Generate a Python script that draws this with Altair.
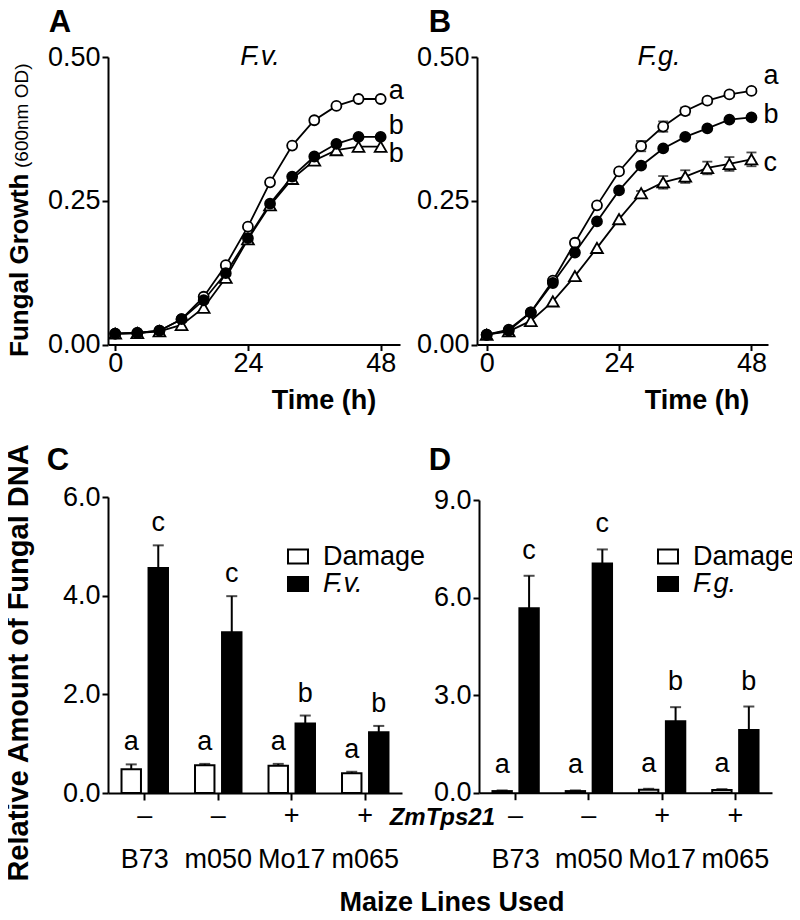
import altair as alt
import pandas as pd

FONT = "Liberation Sans"
W, H = 784, 904

# ---------------- data ----------------
time_h = [0, 4, 8, 12, 16, 20, 24, 28, 32, 36, 40, 44, 48]

# Panel A (F.v.) growth curves
fv_open = [0.019, 0.020, 0.024, 0.044, 0.083, 0.138, 0.205, 0.282, 0.346, 0.390, 0.415, 0.427, 0.427]
fv_filled = [0.019, 0.020, 0.024, 0.044, 0.077, 0.124, 0.185, 0.245, 0.292, 0.327, 0.349, 0.361, 0.361]
fv_tri = [0.019, 0.020, 0.023, 0.034, 0.064, 0.116, 0.183, 0.242, 0.288, 0.320, 0.338, 0.344, 0.344]
fv_letters = ["a", "b", "b"]

# Panel B (F.g.) growth curves
fg_open = [0.017, 0.026, 0.056, 0.111, 0.177, 0.242, 0.301, 0.345, 0.379, 0.406, 0.424, 0.435, 0.441]
fg_filled = [0.017, 0.024, 0.056, 0.107, 0.160, 0.214, 0.268, 0.311, 0.341, 0.361, 0.376, 0.391, 0.395]
fg_tri = [0.017, 0.023, 0.041, 0.075, 0.119, 0.168, 0.218, 0.263, 0.282, 0.292, 0.307, 0.314, 0.322]
fg_open_err = [0, 0, 0, 0, 0, 0, 0.004, 0.009, 0.009, 0.006, 0.005, 0.004, 0.003]
fg_tri_err = [0, 0, 0, 0, 0, 0, 0, 0.004, 0.011, 0.011, 0.011, 0.012, 0.012]
fg_letters = ["a", "b", "c"]

# Panels C / D: fungal DNA
maize_lines = ["B73", "m050", "Mo17", "m065"]
zmtps21 = ["\u2013", "\u2013", "+", "+"]

c_treatments = ["Damage", "F.v."]
c_damage = [0.48, 0.56, 0.55, 0.40]
c_damage_err = [0.10, 0.03, 0.04, 0.03]
c_fv = [4.56, 3.26, 1.41, 1.23]
c_fv_err = [0.46, 0.73, 0.16, 0.13]
c_damage_letters = ["a", "a", "a", "a"]
c_fv_letters = ["c", "c", "b", "b"]

d_treatments = ["Damage", "F.g."]
d_damage = [0.05, 0.05, 0.09, 0.08]
d_damage_err = [0.02, 0.02, 0.03, 0.03]
d_fg = [5.67, 7.05, 2.20, 1.93]
d_fg_err = [1.00, 0.43, 0.43, 0.72]
d_damage_letters = ["a", "a", "a", "a"]
d_fg_letters = ["c", "c", "b", "b"]


# ---------------- helpers ----------------
def label(txt, x, y, size=27, weight="normal", style="normal", align="center",
          baseline="alphabetic", angle=0):
    return alt.Chart(alt.Data(values=[{}])).mark_text(
        text=txt, font=FONT, fontSize=size, fontWeight=weight, fontStyle=style,
        align=align, baseline=baseline, angle=angle, color="black"
    ).encode(x=alt.value(x), y=alt.value(y))


SERIES_STYLE = {
    "open": dict(shape="circle", size=100, fill="white"),
    "tri": dict(shape="triangle-up", size=140, fill="white"),
    "filled": dict(shape="circle", size=100, fill="black"),
}


def growth_panel(series, errs, letters, letter_dy, letter_dx, x_dom, x_rng, y_rng, y_off, x_off):
    rows = []
    for key, vals in series.items():
        ee = errs.get(key, [0] * len(vals))
        for t, v, e in zip(time_h, vals, ee):
            rows.append({"t": t, "v": v, "err": e, "series": key})
    df = pd.DataFrame(rows)

    X = alt.X("t:Q", scale=alt.Scale(domain=x_dom, range=x_rng, nice=False, zero=False),
              axis=alt.Axis(orient="bottom", offset=x_off, values=[0, 24, 48], title=None,
                            labelPadding=0))

    def Y(f):
        return alt.Y(f"{f}:Q", scale=alt.Scale(domain=[0, 0.5], range=y_rng, nice=False, zero=False),
                     axis=alt.Axis(orient="left", offset=y_off, values=[0, 0.25, 0.5],
                                   format=".2f", title=None))

    base = alt.Chart(df)
    layers = []
    order = ["open", "tri", "filled"]
    for key in order:
        layers.append(base.transform_filter(alt.datum.series == key)
                      .mark_line(color="black", strokeWidth=1.8).encode(x=X, y=Y("v")))
    eb = base.transform_filter("datum.err > 0").transform_calculate(
        lo="datum.v - datum.err", hi="datum.v + datum.err")
    layers.append(eb.mark_rule(color="black", strokeWidth=1.6).encode(x=X, y=Y("lo"), y2="hi:Q"))
    layers.append(eb.mark_tick(orient="horizontal", size=10, thickness=1.8, color="black")
                  .encode(x=X, y=Y("hi")))
    layers.append(eb.mark_tick(orient="horizontal", size=10, thickness=1.8, color="black")
                  .encode(x=X, y=Y("lo")))
    for key in order:
        st = SERIES_STYLE[key]
        layers.append(base.transform_filter(alt.datum.series == key).mark_point(
            shape=st["shape"], size=st["size"], filled=True, fill=st["fill"], stroke="black",
            strokeWidth=1.8, opacity=1).encode(x=X, y=Y("v")))
    for i, key in enumerate(["open", "filled", "tri"]):
        layers.append(base.transform_filter(
            f"datum.series == '{key}' && datum.t == 48").mark_text(
            text=letters[i], font=FONT, fontSize=27, align="left", baseline="middle",
            dx=letter_dx, dy=letter_dy[i], color="black").encode(x=X, y=Y("v")))
    return alt.layer(*layers)


def bar_panel(treats, means, errs, letters, y_dom, y_vals, y_rng, x_rng, y_off, x_off,
              letter_dy, zm_y, name_y):
    rows = []
    for k, tr in enumerate(treats):
        for i, ln in enumerate(maize_lines):
            rows.append({"line": ln, "treatment": tr, "mean": means[k][i], "err": errs[k][i],
                         "letter": letters[k][i]})
    df = pd.DataFrame(rows)
    df_lines = pd.DataFrame({"line": maize_lines, "zm": zmtps21})

    X = alt.X("line:N", sort=maize_lines,
              scale=alt.Scale(domain=maize_lines, range=x_rng, paddingInner=0, paddingOuter=0),
              axis=alt.Axis(orient="bottom", offset=x_off, labels=False, title=None, tickSize=7))
    XO = alt.XOffset("treatment:N", sort=treats,
                     scale=alt.Scale(domain=treats, paddingInner=0.28, paddingOuter=0.5))

    def Y(f):
        return alt.Y(f"{f}:Q", scale=alt.Scale(domain=y_dom, range=y_rng, nice=False),
                     axis=alt.Axis(orient="left", offset=y_off, values=y_vals, format=".1f",
                                   title=None))

    F = alt.Fill("treatment:N", scale=alt.Scale(domain=treats, range=["white", "black"]),
                 legend=None)
    base = alt.Chart(df).transform_calculate(top="datum.mean + datum.err")
    bars = base.mark_bar(stroke="black", strokeWidth=2).encode(x=X, xOffset=XO, y=Y("mean"), fill=F)
    rule = base.mark_rule(color="black", strokeWidth=2).encode(x=X, xOffset=XO, y=Y("mean"), y2="top:Q")
    cap = base.mark_tick(orient="horizontal", size=11, thickness=2, color="black").encode(
        x=X, xOffset=XO, y=Y("top"))
    lett = base.mark_text(font=FONT, fontSize=27, baseline="alphabetic", dy=letter_dy,
                          color="black").encode(x=X, xOffset=XO, y=Y("top"), text="letter:N")
    zm = alt.Chart(df_lines).mark_text(font=FONT, fontSize=27, baseline="alphabetic",
                                       color="black").encode(x=X, y=alt.value(zm_y), text="zm:N")
    names = alt.Chart(df_lines).mark_text(font=FONT, fontSize=27, baseline="alphabetic",
                                          color="black").encode(x=X, y=alt.value(name_y), text="line:N")
    return alt.layer(rule, cap, bars, lett, zm, names)


def legend_rows(treats, sq_x, txt_x, row_y):
    out = []
    fills = ["white", "black"]
    for i, tr in enumerate(treats):
        out.append(alt.Chart(alt.Data(values=[{}])).mark_rect(
            fill=fills[i], stroke="black", strokeWidth=2).encode(
            x=alt.value(sq_x), x2=alt.value(sq_x + 20),
            y=alt.value(row_y[i] - 7), y2=alt.value(row_y[i] + 7)))
        out.append(label(tr, txt_x, row_y[i], size=27, align="left", baseline="middle",
                         style="normal" if i == 0 else "italic"))
    return out


# ---------------- panels ----------------
panelA = growth_panel({"open": fv_open, "filled": fv_filled, "tri": fv_tri}, {},
                      fv_letters, [-8, -11, 7], 8,
                      [-1.3, 51.5], [100, 392], [336.5, 49], -100, 336.5 - H)
panelB = growth_panel({"open": fg_open, "filled": fg_filled, "tri": fg_tri},
                      {"open": fg_open_err, "tri": fg_tri_err},
                      fg_letters, [-15, -2, 4], 12,
                      [-1.75, 51.0], [469, 760], [336.5, 49], -469, 336.5 - H)
panelC = bar_panel(c_treatments, [c_damage, c_fv], [c_damage_err, c_fv_err],
                   [c_damage_letters, c_fv_letters], [0, 6], [0, 2, 4, 6],
                   [785, 489], [100, 394], -100, 785 - H, -14, 816, 860)
panelD = bar_panel(d_treatments, [d_damage, d_fg], [d_damage_err, d_fg_err],
                   [d_damage_letters, d_fg_letters], [0, 9], [0, 3, 6, 9],
                   [784.7, 492], [471, 764], -471, 784.7 - H, -17, 816, 860)

texts = [
    label("A", 52, 24, size=31, weight="bold"),
    label("B", 432, 24, size=31, weight="bold"),
    label("C", 50, 462, size=31, weight="bold"),
    label("D", 432, 462, size=31, weight="bold"),
    label("F.v.", 252, 57, style="italic"),
    label("F.g.", 651, 57, style="italic"),
    label("Time (h)", 316, 401, weight="bold"),
    label("Time (h)", 689, 401, weight="bold"),
    label("Fungal Growth", 20, 349, size=26, weight="bold", align="left", angle=270),
    label("(600nm OD)", 20, 160, size=19, align="left", angle=270),
    label("Relative Amount of Fungal DNA", 20, 655, size=29, weight="bold", angle=270),
    label("Maize Lines Used", 444, 903, weight="bold"),
    label("ZmTps21", 487, 817, size=24, weight="bold", style="italic", align="right"),
]
texts += legend_rows(c_treatments, 280, 315, [548.5, 576])
texts += legend_rows(d_treatments, 650, 685, [548.5, 576])

chart = alt.layer(panelA, panelB, panelC, panelD, *texts).resolve_scale(
    x="independent", y="independent", fill="independent", xOffset="independent"
).resolve_axis(x="independent", y="independent").properties(
    width=W, height=H, autosize=alt.AutoSizeParams(type="none"), padding=0
).configure_view(stroke=None).configure_axis(
    labelFont=FONT, labelFontSize=27, labelColor="black", domainColor="black", domainWidth=2,
    tickColor="black", tickWidth=2, tickSize=6, grid=False, labelPadding=2,
    labelFlush=False, labelOverlap=False, labelBound=False
)

chart.save("out.html", embed_options={"renderer": "svg", "actions": False})
